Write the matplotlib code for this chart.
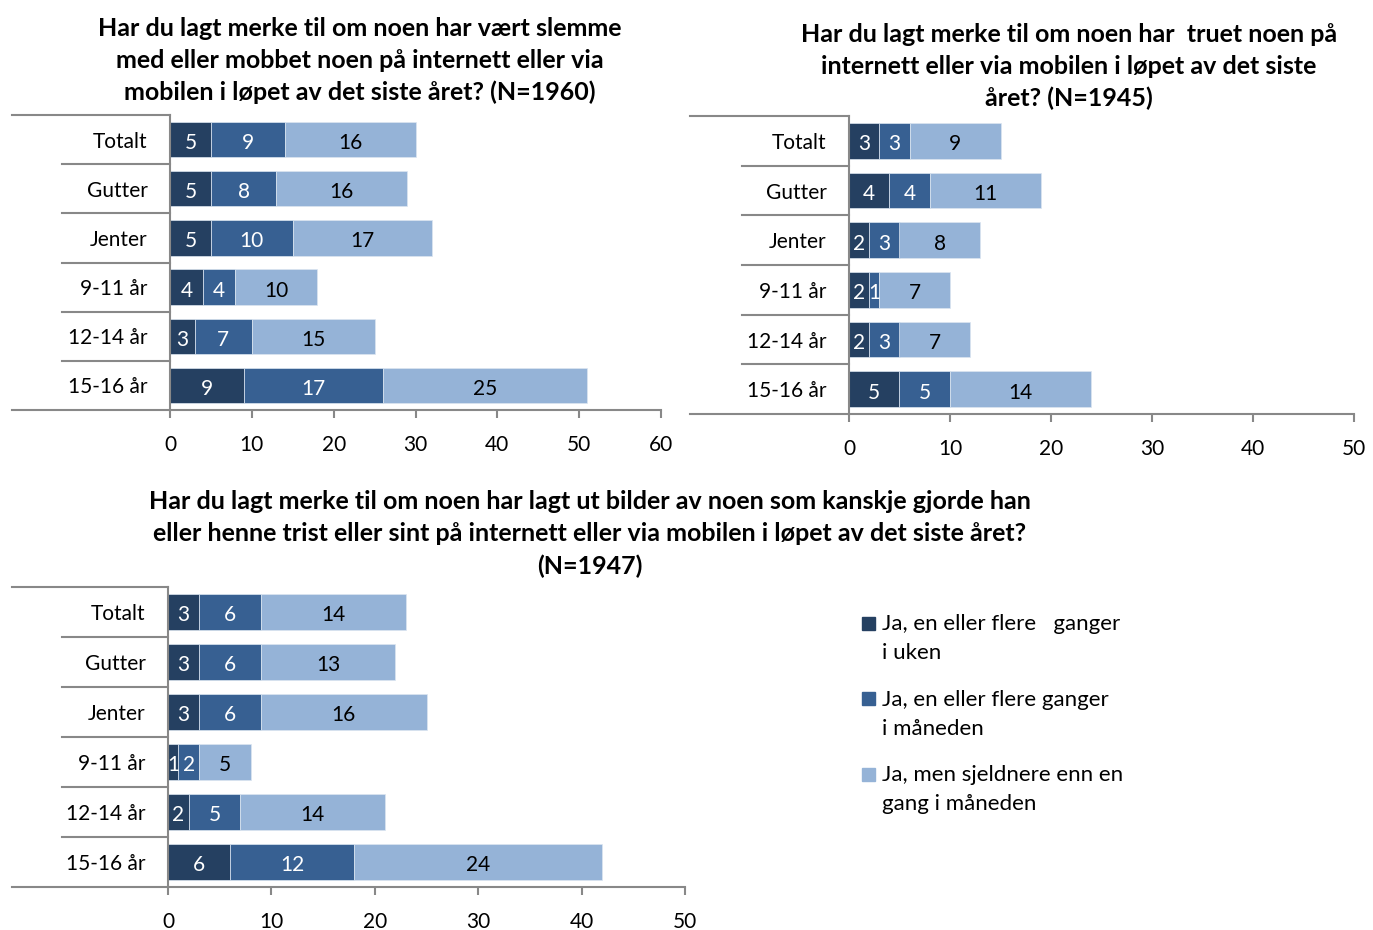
import matplotlib

matplotlib.use("Agg")
import matplotlib.pyplot as plt
import numpy as np
from matplotlib.lines import Line2D
from matplotlib.patches import Rectangle
from matplotlib.transforms import blended_transform_factory

plt.rcParams["font.family"] = ["Lato", "DejaVu Sans"]

categories = ["Totalt", "Gutter", "Jenter", "9-11 år", "12-14 år", "15-16 år"]

# mobbet / slemme (N=1960)
mobbet_uke = [5, 5, 5, 4, 3, 9]
mobbet_maaned = [9, 8, 10, 4, 7, 17]
mobbet_sjeldnere = [16, 16, 17, 10, 15, 25]

# truet (N=1945)
truet_uke = [3, 4, 2, 2, 2, 5]
truet_maaned = [3, 4, 3, 1, 3, 5]
truet_sjeldnere = [9, 11, 8, 7, 7, 14]

# bilder (N=1947)
bilder_uke = [3, 3, 3, 1, 2, 6]
bilder_maaned = [6, 6, 6, 2, 5, 12]
bilder_sjeldnere = [14, 13, 16, 5, 14, 24]

legend_labels = [
    "Ja, en eller flere   ganger\ni uken",
    "Ja, en eller flere ganger\ni måneden",
    "Ja, men sjeldnere enn en\ngang i måneden",
]

titles = [
    "Har du lagt merke til om noen har vært slemme\n"
    "med eller mobbet noen på internett eller via\n"
    "mobilen i løpet av det siste året? (N=1960)",
    "Har du lagt merke til om noen har  truet noen på\n"
    "internett eller via mobilen i løpet av det siste\n"
    "året? (N=1945)",
    "Har du lagt merke til om noen har lagt ut bilder av noen som kanskje gjorde han\n"
    "eller henne trist eller sint på internett eller via mobilen i løpet av det siste året?\n"
    "(N=1947)",
]

colors = ["#254061", "#376092", "#95B3D7"]
text_colors = ["white", "white", "black"]
grey = "#888888"

W, H = 1373, 930
fig = plt.figure(figsize=(W / 100, H / 100), dpi=100)


def px_box(left, top, right, bottom):
    return [left / W, 1 - bottom / H, (right - left) / W, (bottom - top) / H]


def draw_panel(box, series, xmax, outer_left, sep_left):
    ax = fig.add_axes(px_box(*box))
    y = np.arange(len(categories))
    left = np.zeros(len(categories))
    for vals, c, tc in zip(series, colors, text_colors):
        bars = ax.barh(y, vals, left=left, height=0.72, color=c,
                       edgecolor="#dce6f1", linewidth=0.5)
        labels = ax.bar_label(bars, label_type="center", color=tc, fontsize=15)
        for lab in labels:
            lab.xyann = (0, -2.5)
        left = left + np.array(vals)

    ax.set_xlim(0, xmax)
    ax.set_ylim(len(categories) - 0.5, -0.5)
    ax.set_xticks(np.arange(0, xmax + 1, 10))
    ax.set_yticks(y, categories)
    ax.tick_params(axis="y", length=0, pad=16, labelsize=15)
    ax.tick_params(axis="x", length=6, width=1.5, color=grey, pad=12, labelsize=15)
    for side in ["top", "right"]:
        ax.spines[side].set_visible(False)
    for side in ["left", "bottom"]:
        ax.spines[side].set_color(grey)
        ax.spines[side].set_linewidth(1.5)

    # category frame lines to the left of the axis
    width_px = box[2] - box[0]
    trans = blended_transform_factory(ax.transAxes, ax.transData)
    x_outer = (outer_left - box[0]) / width_px
    x_sep = (sep_left - box[0]) / width_px
    for yy in [-0.5, len(categories) - 0.5]:
        ax.add_line(Line2D([x_outer, 0], [yy, yy], transform=trans,
                           color=grey, lw=1.5, clip_on=False))
    for yy in y[:-1] + 0.5:
        ax.add_line(Line2D([x_sep, 0], [yy, yy], transform=trans,
                           color=grey, lw=1.5, clip_on=False))
    return ax


draw_panel((170, 115, 661, 410),
           [mobbet_uke, mobbet_maaned, mobbet_sjeldnere], 60, 12, 62)
draw_panel((849, 116, 1354, 414),
           [truet_uke, truet_maaned, truet_sjeldnere], 50, 690, 742)
draw_panel((168, 587, 685, 887),
           [bilder_uke, bilder_maaned, bilder_sjeldnere], 50, 12, 62)

title_pos = [(360, 60.5), (1069, 66.5), (590, 534)]
for (tx, ty), t in zip(title_pos, titles):
    fig.text(tx / W, 1 - ty / H, t, ha="center", va="center",
             fontsize=18, fontweight="bold", linespacing=1.46)

# legend
for i, (lab, c) in enumerate(zip(legend_labels, colors)):
    top = 617 + i * 75.5
    fig.add_artist(Rectangle((862 / W, 1 - (top + 13) / H), 13 / W, 13 / H,
                             transform=fig.transFigure, color=c))
    fig.text(882 / W, 1 - (top - 3) / H, lab, ha="left", va="top",
             fontsize=16, linespacing=1.58)

fig.savefig("out.png", dpi=100)
